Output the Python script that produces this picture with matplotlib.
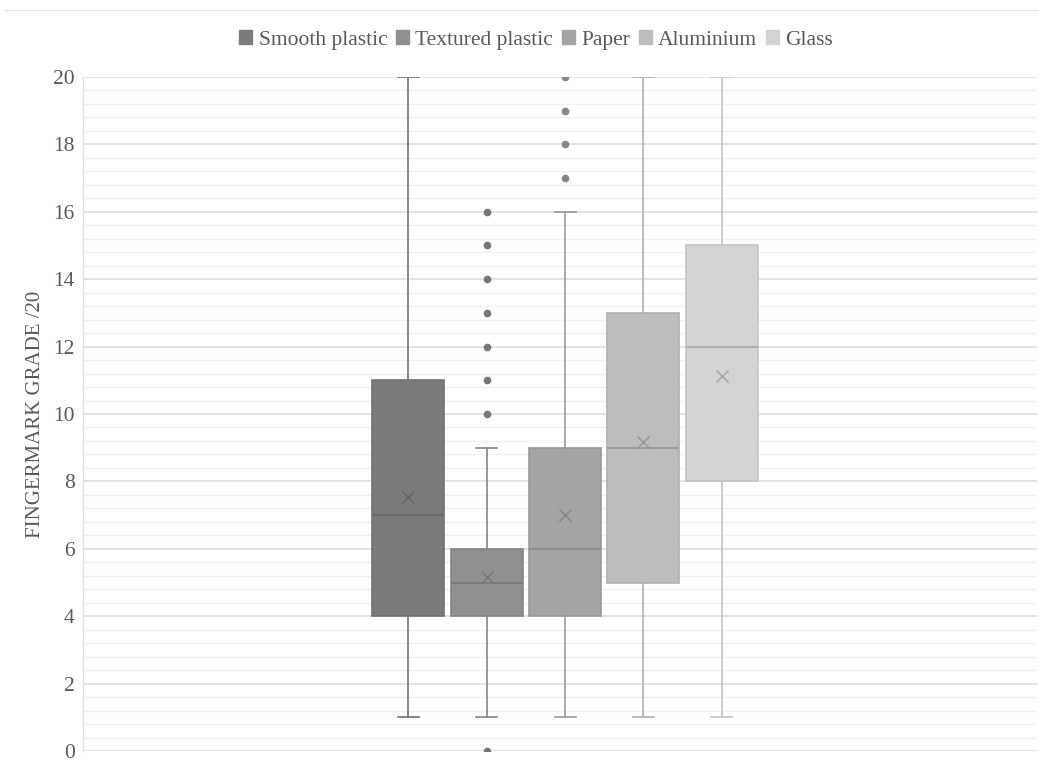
import matplotlib
matplotlib.use("Agg")
import matplotlib.pyplot as plt
from matplotlib.patches import Patch
from matplotlib.ticker import MultipleLocator
from matplotlib.lines import Line2D

plt.rcParams['font.family'] = ['Liberation Serif', 'DejaVu Serif']

# Surface categories and their box-plot summaries (grade out of 20)
surfaces = ["Smooth plastic", "Textured plastic", "Paper", "Aluminium", "Glass"]
whisker_low = [1, 1, 1, 1, 1]
q1 = [4, 4, 4, 5, 8]
median = [7, 5, 6, 9, 12]
q3 = [11, 6, 9, 13, 15]
whisker_high = [20, 9, 16, 20, 20]
mean = [7.53, 5.16, 7.0, 9.17, 11.13]
outliers = [
    [],
    [0, 10, 11, 12, 13, 14, 15, 16],
    [17, 18, 19, 20],
    [],
    [],
]

fills = ["#7b7b7b", "#8f8f8f", "#a4a4a4", "#bdbdbd", "#d3d3d3"]
edges = ["#727272", "#858585", "#999999", "#b0b0b0", "#c4c4c4"]
marks = ["#666666", "#777777", "#888888", "#959595", "#a5a5a5"]

fig = plt.figure(figsize=(10.39, 7.64), dpi=100)
ax = fig.add_axes([83 / 1039, 13 / 764, 954 / 1039, 674 / 764])

stats = []
for i, name in enumerate(surfaces):
    stats.append(dict(label=name, whislo=whisker_low[i], q1=q1[i], med=median[i],
                      q3=q3[i], whishi=whisker_high[i], mean=mean[i],
                      fliers=outliers[i]))

spacing = 78.3
center = 565 - 83
positions = [center + (i - 2) * spacing for i in range(len(surfaces))]

for i, st in enumerate(stats):
    ax.bxp([st], positions=[positions[i]], widths=72, patch_artist=True,
           showmeans=True, showfliers=True, manage_ticks=False,
           boxprops=dict(facecolor=fills[i], edgecolor=edges[i], linewidth=1.2),
           medianprops=dict(color=marks[i], linewidth=1.1),
           whiskerprops=dict(color=edges[i], linewidth=1.2),
           capprops=dict(color=edges[i], linewidth=1.2),
           capwidths=21,
           meanprops=dict(marker='x', markeredgecolor=marks[i], markersize=9,
                          markeredgewidth=1.0),
           flierprops=dict(marker='o', markerfacecolor=marks[i],
                           markeredgecolor=marks[i], markersize=4.5))

ax.set_xlim(0, 954)
ax.set_ylim(0, 20)
ax.yaxis.set_major_locator(MultipleLocator(2))
ax.yaxis.set_minor_locator(MultipleLocator(0.4))
ax.grid(which='major', axis='y', color='#e3e3e3', linewidth=1.4)
ax.grid(which='minor', axis='y', color='#f0f0f0', linewidth=1.0)
ax.set_axisbelow(True)
ax.set_xticks([])
for s in ['top', 'right', 'bottom']:
    ax.spines[s].set_visible(False)
ax.spines['left'].set_color('#e0e0e0')
ax.spines['left'].set_linewidth(1.0)
ax.tick_params(axis='y', which='both', length=0, labelsize=15.5,
               labelcolor='#595959', pad=6)
ax.set_ylabel("FINGERMARK GRADE /20", fontsize=15, color='#595959', labelpad=6)

handles = [Patch(facecolor=fills[i], edgecolor=fills[i]) for i in range(len(surfaces))]
fig.legend(handles, surfaces, loc='center', bbox_to_anchor=(536 / 1039, 1 - 40 / 764),
           ncol=5, frameon=False, fontsize=15.5, handlelength=0.6, handleheight=0.6,
           handletextpad=0.3, columnspacing=0.4, labelcolor='#595959')

fig.add_artist(Line2D([5 / 1039, 1.0], [1 - 10 / 764, 1 - 10 / 764],
                      color='#e6e6e6', linewidth=1.0))

fig.savefig("out.png", dpi=100)
